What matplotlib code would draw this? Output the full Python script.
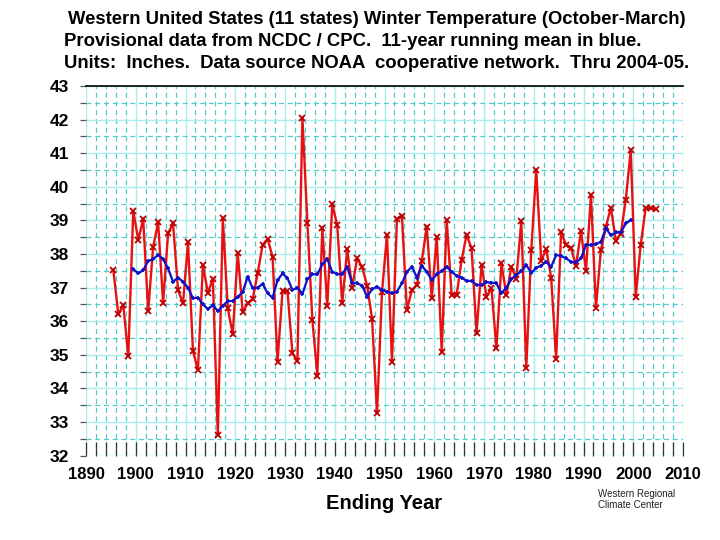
import numpy as np
import matplotlib
matplotlib.use("Agg")
import matplotlib.pyplot as plt
from matplotlib.ticker import MultipleLocator

# winter (Oct-Mar) values, by ending year
years = list(range(1896, 2006))
winter = [
    37.52, 36.20, 36.48, 34.96, 39.28, 38.42, 39.04, 36.30, 38.22, 38.94,  # 1896-1905
    36.53, 38.62, 38.91, 36.93, 36.53, 38.35, 35.11, 34.55, 37.67, 36.85,  # 1906-1915
    37.25, 32.61, 39.06, 36.38, 35.61, 38.02, 36.28, 36.53, 36.66, 37.42,  # 1916-1925
    38.27, 38.45, 37.92, 34.80, 36.90, 36.90, 35.04, 34.82, 42.06, 38.93,  # 1926-1935
    36.04, 34.38, 38.78, 36.46, 39.48, 38.86, 36.53, 38.14, 37.00, 37.87,  # 1936-1945
    37.62, 37.06, 36.07, 33.26, 36.88, 38.57, 34.80, 39.04, 39.14, 36.33,  # 1946-1955
    36.93, 37.08, 37.80, 38.81, 36.68, 38.52, 35.09, 39.01, 36.78, 36.78,  # 1956-1965
    37.82, 38.57, 38.17, 35.64, 37.67, 36.73, 36.98, 35.19, 37.72, 36.78,  # 1966-1975
    37.62, 37.26, 38.98, 34.62, 38.12, 40.50, 37.79, 38.15, 37.30, 34.88,  # 1976-1985
    38.66, 38.27, 38.17, 37.65, 38.68, 37.50, 39.76, 36.40, 38.12, 38.81,  # 1986-1995
    39.38, 38.40, 38.61, 39.61, 41.10, 36.73, 38.27, 39.38, 39.36, 39.34,  # 1996-2005
]

# 11-year running mean
mean_years = list(range(1900, 2001))
running = [
    37.55, 37.42, 37.52, 37.79, 37.85, 37.97, 37.85, 37.57, 37.17, 37.30,  # 1900-1909
    37.17, 37.00, 36.68, 36.70, 36.50, 36.36, 36.48, 36.30, 36.46, 36.60,  # 1910-1919
    36.60, 36.73, 36.86, 37.33, 36.98, 37.00, 37.11, 36.83, 36.70, 37.22,  # 1920-1929
    37.42, 37.28, 36.93, 37.00, 36.81, 37.25, 37.40, 37.39, 37.69, 37.85,  # 1930-1939
    37.47, 37.40, 37.40, 37.62, 37.13, 37.13, 37.06, 36.73, 36.95, 37.03,  # 1940-1949
    36.93, 36.88, 36.83, 36.88, 37.13, 37.47, 37.62, 37.30, 37.65, 37.47,  # 1950-1959
    37.23, 37.39, 37.50, 37.62, 37.47, 37.35, 37.30, 37.20, 37.20, 37.08,  # 1960-1969
    37.08, 37.16, 37.15, 37.13, 36.83, 37.00, 37.25, 37.37, 37.49, 37.67,  # 1970-1979
    37.44, 37.59, 37.65, 37.77, 37.62, 37.97, 37.94, 37.87, 37.77, 37.75,  # 1980-1989
    37.87, 38.27, 38.27, 38.29, 38.37, 38.76, 38.56, 38.64, 38.64, 38.91,  # 1990-1999
    39.01,                                                                 # 2000
]

title_lines = [
    "Western United States (11 states) Winter Temperature (October-March)",
    "Provisional data from NCDC / CPC.  11-year running mean in blue.",
    "Units:  Inches.  Data source NOAA  cooperative network.  Thru 2004-05.",
]

plt.rcParams["font.family"] = ["Liberation Sans", "DejaVu Sans"]

W, H = 720, 540
fig = plt.figure(figsize=(W / 100, H / 100), dpi=100)
ax = fig.add_axes([86 / W, 1 - 455.6 / H, (683 - 86) / W, (455.6 - 86) / H])

# points sit half a year left of the ending-year label
ax.plot(np.array(years) - 0.5, winter, color="#e81010", lw=1.7,
        marker="x", ms=4.5, mew=1.3, mec="#c00000", zorder=3)
ax.plot(np.array(mean_years) - 0.5, running, color="#1010c8", lw=1.6,
        marker="+", ms=3.5, mew=1.2, zorder=4)

ax.set_xlim(1890, 2010)
ax.set_ylim(32, 43)
ax.xaxis.set_major_locator(MultipleLocator(10))
ax.xaxis.set_minor_locator(MultipleLocator(2))
ax.yaxis.set_major_locator(MultipleLocator(1))
ax.yaxis.set_minor_locator(MultipleLocator(0.5))

ax.grid(which="major", color="#a8eeee", lw=1.0, ls="-")
ax.grid(which="minor", color="#50cccc", lw=0.9, ls=(0, (4, 3)))
ax.set_axisbelow(True)

for s in ["left", "right", "bottom"]:
    ax.spines[s].set_visible(False)
ax.spines["top"].set_color("black")
ax.spines["top"].set_linewidth(1.2)

ax.tick_params(axis="x", which="both", direction="in", length=10, width=0.9,
               color="#333333", pad=8, labelsize=12)
ax.tick_params(axis="y", which="both", direction="out", length=4, width=0.9,
               color="#555555", pad=8, labelsize=12.5)
for lab in ax.get_xticklabels() + ax.get_yticklabels():
    lab.set_fontweight("bold")

ax.set_xlabel("Ending Year", fontsize=14.5, fontweight="bold", labelpad=9)

fig.text(68 / W, 1 - 19 / H, title_lines[0], fontsize=13.3, fontweight="bold",
         va="center", ha="left")
fig.text(64 / W, 1 - 41 / H, title_lines[1], fontsize=13.3, fontweight="bold",
         va="center", ha="left")
fig.text(64 / W, 1 - 63 / H, title_lines[2], fontsize=13.3, fontweight="bold",
         va="center", ha="left")

fig.text(598 / W, 1 - 494 / H, "Western Regional", fontsize=7, color="#222222",
         va="center", ha="left")
fig.text(598 / W, 1 - 505 / H, "Climate Center", fontsize=7, color="#222222",
         va="center", ha="left")

fig.savefig("out.png", dpi=100)
